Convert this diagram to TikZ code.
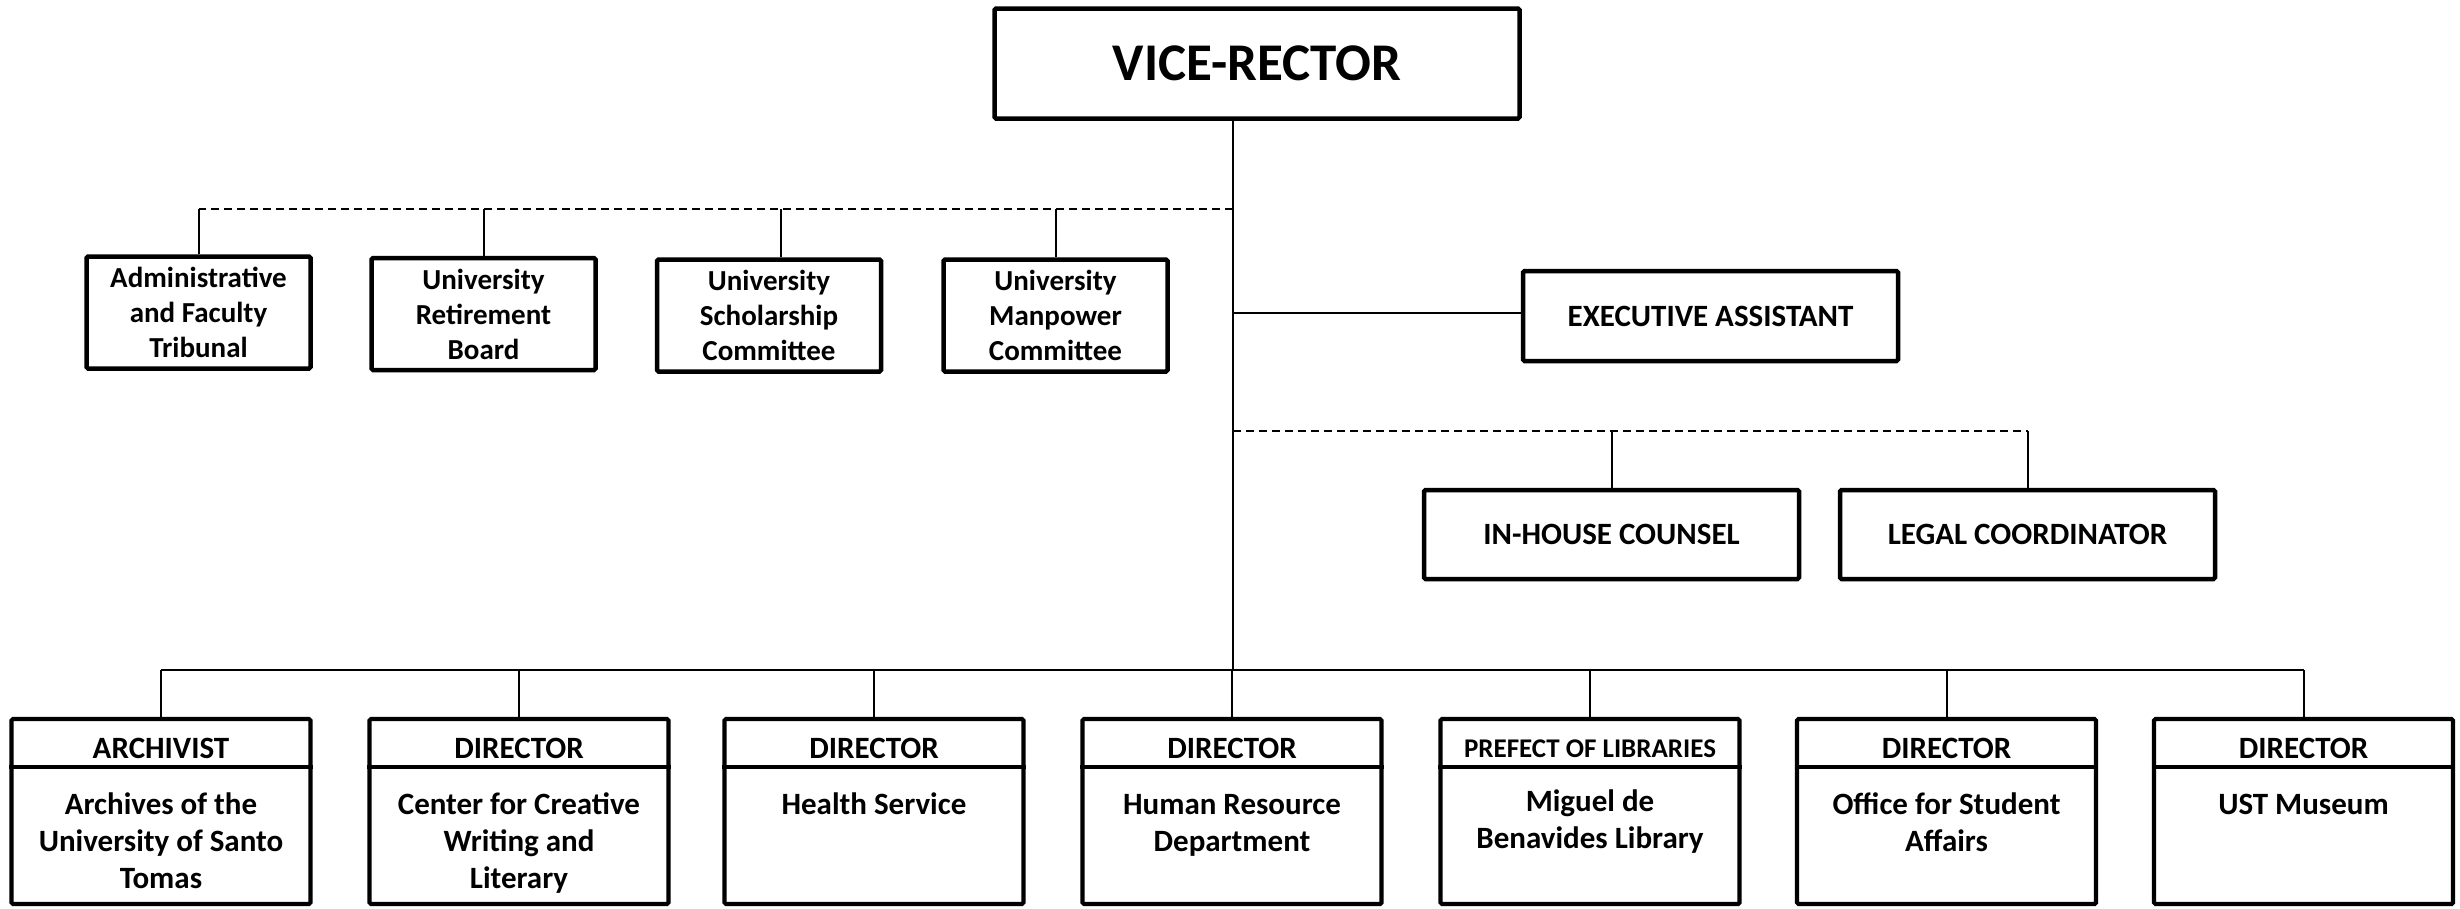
\documentclass[tikz,border=0pt]{standalone}
\usepackage{fontspec}
\setmainfont{Carlito}
\begin{document}
\begin{tikzpicture}[x=1pt,y=-1pt,
  box/.style={draw, line width=4.5pt, rounded corners=1.5pt, inner sep=0pt, align=center},
  unitbox/.style={draw, line width=4.2pt, rounded corners=1.5pt, inner sep=0pt, minimum width=299pt, minimum height=185pt},
  conn/.style={line width=2pt},
  dconn/.style={line width=2pt, dash pattern=on 8pt off 5pt},
  bigtxt/.style={font=\bfseries\fontsize{53}{62}\selectfont},
  midtxt/.style={font=\bfseries\fontsize{31}{37}\selectfont},
  comtxt/.style={font=\bfseries\fontsize{29}{35}\selectfont},
  headtxt/.style={font=\bfseries\fontsize{31}{37}\selectfont, inner sep=0pt, anchor=base},
  smallhead/.style={font=\bfseries\fontsize{27}{33}\selectfont, inner sep=0pt, anchor=base},
  bodytxt/.style={font=\bfseries\fontsize{31}{37}\selectfont, inner sep=0pt, anchor=north, align=center}
]
\useasboundingbox (0,0) rectangle (2460,908);

% top
\node[box, bigtxt, minimum width=525pt, minimum height=110pt] (vr) at (1257,63.5) {VICE-RECTOR};

% spine coordinates
\coordinate (sp1) at (1233,209);
\coordinate (sp2) at (1233,313);
\coordinate (sp3) at (1233,431);
\coordinate (sp4) at (1233,670);

% committees
\node[box, comtxt, minimum width=224pt, minimum height=112pt] (adm) at (198.5,312.5) {Administrative\\and Faculty\\Tribunal};
\node[box, comtxt, minimum width=224pt, minimum height=112pt] (ret) at (483.5,314) {University\\Retirement\\Board};
\node[box, comtxt, minimum width=224pt, minimum height=112pt] (sch) at (769,315.5) {University\\Scholarship\\Committee};
\node[box, comtxt, minimum width=224pt, minimum height=112pt] (man) at (1055.5,315.5) {University\\Manpower\\Committee};

% executive / legal
\node[box, midtxt, minimum width=375pt, minimum height=90pt] (ea) at (1710.5,316) {EXECUTIVE ASSISTANT};
\node[box, midtxt, minimum width=375pt, minimum height=89pt] (ihc) at (1611.5,534.5) {IN-HOUSE COUNSEL};
\node[box, midtxt, minimum width=375pt, minimum height=89pt] (leg) at (2027.5,534.5) {LEGAL COORDINATOR};

% bottom units
\foreach \n/\cx in {arc/161, ccw/519, hs/874, hr/1232, lib/1590, osa/1946.5, mus/2303.5}{
  \node[unitbox] (\n) at (\cx,811.5) {};
  \draw[line width=3.5pt] (\n.west |- 0,767) -- (\n.east |- 0,767);
}
\node[headtxt] (arch) at (161,758) {ARCHIVIST};
\node[headtxt] (ccwh) at (519,758) {DIRECTOR};
\node[headtxt] (hsh) at (874,758) {DIRECTOR};
\node[headtxt] (hrh) at (1232,758) {DIRECTOR};
\node[smallhead] (libh) at (1590,757) {PREFECT OF LIBRARIES};
\node[headtxt] (osah) at (1946.5,758) {DIRECTOR};
\node[headtxt] (mush) at (2303.5,758) {DIRECTOR};

\node[bodytxt] (arcb) at (161,788) {\strut Archives of the\\\strut University of Santo\\\strut Tomas};
\node[bodytxt] (ccwb) at (519,788) {\strut Center for Creative\\\strut Writing and\\\strut Literary};
\node[bodytxt] (hsb) at (874,788) {\strut Health Service};
\node[bodytxt] (hrb) at (1232,788) {\strut Human Resource\\\strut Department};
\node[bodytxt] (libb) at (1590,785) {\strut Miguel de\\\strut Benavides Library};
\node[bodytxt] (osab) at (1946.5,788) {\strut Office for Student\\\strut Affairs};
\node[bodytxt] (musb) at (2303.5,788) {\strut UST Museum};

% spine
\draw[conn] (vr.south -| sp1) -- (sp4);

% committees dashed bus
\draw[dconn] (sp1) -- (adm.north |- sp1);
\foreach \n in {adm, ret, man}{
  \draw[conn] (\n.north |- sp1) -- (\n.north);
}
\draw[conn] ([xshift=12pt]sch.north |- sp1) -- ([xshift=12pt]sch.north);

% executive assistant
\draw[conn] (sp2) -- (sp2 -| ea.west);

% legal dashed bus
\draw[dconn] (sp3) -- (leg.north |- sp3);
\draw[conn] (ihc.north |- sp3) -- (ihc.north);
\draw[conn] (leg.north |- sp3) -- (leg.north);

% bottom bus
\draw[conn] (arc.north |- sp4) -- (mus.north |- sp4);
\foreach \n in {arc, ccw, hs, hr, lib, osa, mus}{
  \draw[conn] (\n.north |- sp4) -- (\n.north);
}
\end{tikzpicture}
\end{document}
